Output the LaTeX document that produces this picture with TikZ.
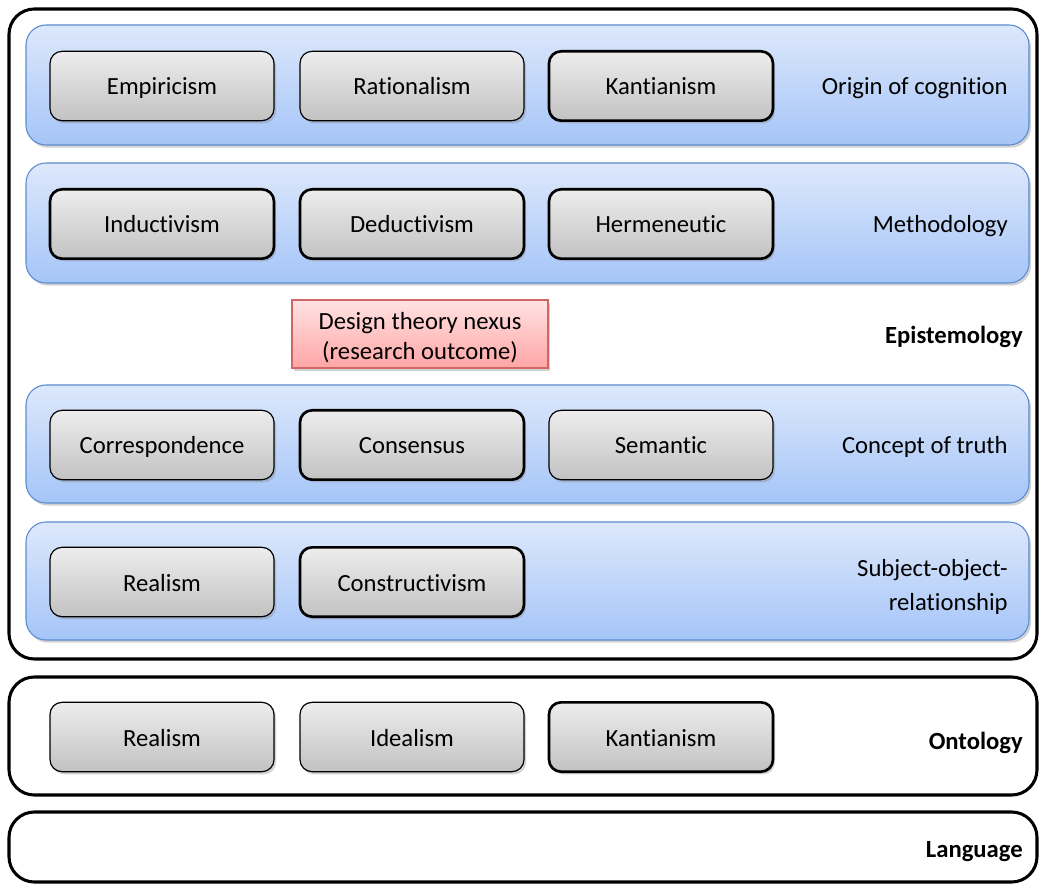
\documentclass[tikz,border=0pt]{standalone}
\usepackage{fontspec}
\setmainfont[Ligatures=NoCommon]{Carlito}
\usetikzlibrary{shadows}
\definecolor{grayTop}{HTML}{EDEDED}
\definecolor{grayBot}{HTML}{C2C2C2}
\definecolor{blueTop}{HTML}{DDE8FB}
\definecolor{blueBot}{HTML}{A5C5F8}
\definecolor{blueLine}{HTML}{5B8BD0}
\definecolor{redTop}{HTML}{FFE3E3}
\definecolor{redBot}{HTML}{FFA5A5}
\definecolor{redLine}{HTML}{D06666}
\tikzset{
  txt/.style={font=\fontsize{18.5}{22.5}\selectfont},
  line1/.style={text height=16pt, text depth=2.5pt},
  frame/.style={draw=black, line width=2.3pt, rounded corners=19pt, fill=white},
  band/.style={draw=blueLine, line width=0.8pt, rounded corners=15pt,
    top color=blueTop, bottom color=blueBot,
    drop shadow={opacity=0.35, shadow xshift=1.5pt, shadow yshift=-2pt}},
  item/.style={txt, line1, draw=black, line width=0.9pt, rounded corners=9pt,
    top color=grayTop, bottom color=grayBot, minimum width=168pt, minimum height=52pt,
    inner sep=0pt,
    drop shadow={opacity=0.35, shadow xshift=1.5pt, shadow yshift=-2pt}},
  strong/.style={item, line width=2pt},
  outcome/.style={draw=redLine, line width=0.8pt, top color=redTop, bottom color=redBot,
    minimum width=192pt, minimum height=51pt, inner sep=0pt,
    drop shadow={opacity=0.35, shadow xshift=1.5pt, shadow yshift=-2pt}},
  tag/.style={txt, anchor=east, inner sep=0pt},
  head/.style={tag, line1, font=\fontsize{18.5}{22.5}\selectfont\bfseries},
}
\begin{document}
\begin{tikzpicture}[x=0.75pt, y=-0.75pt]
\useasboundingbox (0,0) rectangle (1040,884);

% outer frames
\draw[frame] (9,9) rectangle (1037,659);
\draw[frame] (9,677) rectangle (1037,795);
\draw[frame] (9,812) rectangle (1037,882);

% blue bands
\path[band] (26,25) rectangle (1029,145);
\path[band] (26,163) rectangle (1029,283);
\path[band] (26,385) rectangle (1029,503);
\path[band] (26,522) rectangle (1029,640);

% origin of cognition
\node[item]   (emp)  at (162,86) {Empiricism};
\node[item]   (rat)  at (412,86) {Rationalism};
\node[strong] (kan1) at (661,86) {Kantianism};
\node[tag, line1] (orig) at (1008,86) {Origin of cognition};

% methodology
\node[strong] (ind) at (162,224) {Inductivism};
\node[strong] (ded) at (412,224) {Deductivism};
\node[strong] (her) at (661,224) {Hermeneutic};
\node[tag, line1] (meth) at (1008,224) {Methodology};

% research outcome and epistemology label
\node[outcome] (dtn) at (420,334) {};
\node[txt, align=center, inner sep=0pt] (dtnt) at ([yshift=-3pt]dtn.center) {Design theory nexus\\(research outcome)};
\node[head]    (epi) at (1023,335) {Epistemology};

% concept of truth
\node[item]   (cor) at (162,445) {Correspondence};
\node[strong] (con) at (412,445) {Consensus};
\node[item]   (sem) at (661,445) {Semantic};
\node[tag, line1] (truth) at (1008,445) {Concept of truth};

% subject-object relationship
\node[item]   (rea1) at (162,582) {Realism};
\node[strong] (cst)  at (412,582) {Constructivism};
\node[tag, align=right, font=\fontsize{18.5}{25}\selectfont] (sor) at (1008,587) {Subject-object-\\relationship};

% ontology
\node[item]   (rea2) at (162,737) {Realism};
\node[item]   (ide)  at (412,737) {Idealism};
\node[strong] (kan2) at (661,737) {Kantianism};
\node[head]   (ont)  at (1023,740) {Ontology};

% language
\node[head] (lang) at (1023,848) {Language};
\end{tikzpicture}
\end{document}
